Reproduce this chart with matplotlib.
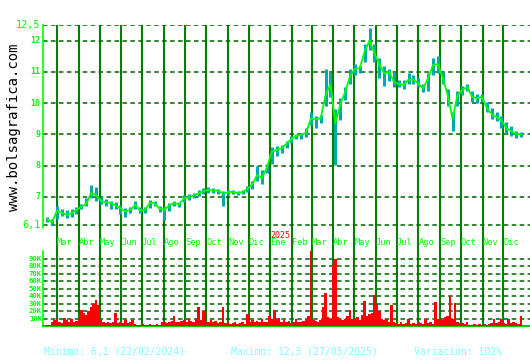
import numpy as np
import pandas as pd
import matplotlib
matplotlib.use("Agg")
import matplotlib.pyplot as plt

# ---------------- data ----------------
price_start = "2024-02-16"   # weekly samples
close = [6.28, 6.18, 6.55, 6.48, 6.42, 6.47, 6.58, 6.68, 6.78, 7.12,
         7.05, 6.87, 6.82, 6.80, 6.72, 6.62, 6.53, 6.58, 6.74, 6.56,
         6.58, 6.80, 6.80, 6.62, 6.58, 6.72, 6.80, 6.76, 6.95, 6.98,
         7.05, 7.10, 7.18, 7.22, 7.20, 7.20, 7.10, 7.14, 7.16, 7.12,
         7.15, 7.25, 7.40, 7.70, 7.60, 7.95, 8.45, 8.50, 8.55, 8.70,
         8.85, 8.95, 8.98, 9.05, 9.50, 9.48, 9.52, 10.25, 10.60, 9.35,
         9.95, 10.35, 10.85, 11.10, 11.12, 11.65, 12.00, 11.60, 11.25, 10.95,
         11.00, 10.68, 10.60, 10.58, 10.75, 10.75, 10.62, 10.47, 10.80, 11.22,
         11.25, 10.80, 10.25, 9.50, 10.25, 10.42, 10.52, 10.20, 10.15, 10.20,
         9.85, 9.65, 9.55, 9.45, 9.20, 9.10, 9.02, 9.00]
high = [6.35, 6.30, 6.70, 6.62, 6.58, 6.60, 6.66, 6.78, 6.95, 7.38,
        7.30, 7.00, 6.92, 6.88, 6.82, 6.75, 6.65, 6.66, 6.85, 6.68,
        6.68, 6.90, 6.88, 6.72, 6.66, 6.80, 6.88, 6.84, 7.05, 7.08,
        7.12, 7.22, 7.28, 7.30, 7.28, 7.26, 7.20, 7.22, 7.22, 7.20,
        7.22, 7.35, 7.52, 8.00, 7.85, 8.05, 8.60, 8.62, 8.65, 8.80,
        8.95, 9.02, 9.05, 9.20, 9.70, 9.60, 9.62, 11.10, 11.00, 9.80,
        10.15, 10.50, 11.10, 11.25, 11.20, 11.90, 12.40, 11.90, 11.45, 11.20,
        11.10, 10.98, 10.75, 10.75, 10.95, 10.90, 10.80, 10.60, 10.95, 11.45,
        11.50, 11.00, 10.45, 9.70, 10.40, 10.55, 10.62, 10.40, 10.30, 10.30,
        10.05, 9.85, 9.70, 9.60, 9.40, 9.25, 9.10, 9.06]
low = [6.20, 6.10, 6.30, 6.38, 6.33, 6.36, 6.45, 6.60, 6.70, 6.95,
       6.88, 6.78, 6.72, 6.62, 6.60, 6.45, 6.35, 6.48, 6.60, 6.48,
       6.48, 6.65, 6.70, 6.52, 6.25, 6.55, 6.70, 6.68, 6.82, 6.90,
       6.95, 7.02, 7.10, 7.12, 7.12, 7.10, 6.70, 7.05, 7.08, 7.05,
       7.08, 7.15, 7.25, 7.50, 7.40, 7.75, 8.05, 8.30, 8.40, 8.55,
       8.72, 8.85, 8.85, 8.92, 9.30, 9.20, 9.35, 9.90, 10.20, 8.02,
       9.45, 10.10, 10.60, 10.90, 10.95, 11.30, 11.70, 11.30, 10.80, 10.55,
       10.70, 10.50, 10.50, 10.45, 10.60, 10.60, 10.50, 10.35, 10.40, 10.90,
       10.95, 10.60, 9.90, 9.12, 9.90, 10.25, 10.40, 10.05, 10.00, 10.02,
       9.70, 9.50, 9.42, 9.20, 9.05, 8.95, 8.88, 8.92]

volume_start = "2024-02-16"  # twice-weekly samples, thousands of shares
volume_k = [2, 2, 5, 8, 10, 6, 4, 11, 8, 5, 9, 6, 7, 9, 21, 18, 15, 20, 26, 30,
            35, 28, 8, 5, 4, 6, 4, 5, 18, 4, 6, 4, 8, 4, 5, 8, 3, 2, 2, 3,
            2, 2, 3, 2, 2, 3, 2, 5, 6, 4, 5, 7, 14, 5, 6, 7, 8, 5, 9, 7,
            6, 10, 26, 8, 20, 6, 5, 8, 5, 7, 4, 6, 26, 4, 5, 3, 4, 6, 3, 4,
            5, 3, 16, 6, 8, 5, 7, 6, 9, 5, 6, 13, 10, 22, 9, 11, 6, 8, 5, 7,
            4, 6, 10, 5, 6, 7, 9, 14, 100, 8, 7, 6, 8, 26, 44, 12, 10, 82, 90, 12,
            9, 8, 9, 13, 22, 10, 9, 12, 8, 15, 34, 14, 16, 18, 41, 29, 20, 9, 8, 10,
            6, 28, 5, 4, 3, 5, 3, 4, 10, 3, 4, 3, 5, 4, 3, 10, 4, 5, 3, 32,
            9, 10, 8, 12, 14, 40, 9, 31, 5, 4, 4, 3, 5, 2, 2, 3, 2, 3, 2, 3,
            2, 3, 4, 10, 4, 5, 9, 4, 3, 10, 4, 5, 4, 3, 13]

month_names = ["Mar", "Abr", "May", "Jun", "Jul", "Ago", "Sep", "Oct", "Nov", "Dic",
               "Ene", "Feb", "Mar", "Abr", "May", "Jun", "Jul", "Ago", "Sep", "Oct",
               "Nov", "Dic"]
year_label = "2025"
price_ticks = [12, 11, 10, 9, 8, 7]
price_min_label, price_max_label = "6,1", "12,5"
price_min, price_max = 6.1, 12.5
volume_ticks = [10, 20, 30, 40, 50, 60, 70, 80, 90]
footer = ["Minimo: 6,1 (22/02/2024)", "Maximo: 12,3 (27/05/2025)", "Variación: 102%"]
site = "www.bolsagrafica.com"

# ---------------- figure ----------------
W, H = 530, 360
fig = plt.figure(figsize=(W / 100, H / 100), dpi=100)
fig.patch.set_facecolor("white")


def fx(px):
    return px / W


def fy(py):
    return 1 - py / H


LEFT, RIGHT = 43, 530
ax = fig.add_axes([fx(LEFT), fy(228), (RIGHT - LEFT) / W, (228 - 25) / H])
axv = fig.add_axes([fx(LEFT), fy(326), (RIGHT - LEFT) / W, (326 - 228) / H])

dates = pd.date_range(price_start, periods=len(close), freq="7D")
vdates = pd.date_range(volume_start, periods=len(volume_k), freq="84h")
month_starts = pd.date_range("2024-03-01", periods=len(month_names), freq="MS")

xlo, xhi = pd.Timestamp("2024-02-10"), pd.Timestamp("2026-01-08")

LIME = "#00ff00"
GRID = "#006400"
VLINE = "#008000"
TEAL = "#00aaaa"
MONO = "DejaVu Sans Mono"
dash = (0, (3.0, 2.2))

for a in (ax, axv):
    a.set_xlim(xlo, xhi)
    a.set_facecolor("white")
    a.set_xticks([])
    a.set_yticks([])
    for s in a.spines.values():
        s.set_visible(False)
    for d in month_starts:
        a.axvline(d, color=VLINE, lw=1.5, zorder=1)

# ---- price panel ----
ax.set_ylim(6.0, 12.5)
for v in price_ticks + [price_min, price_max]:
    ax.axhline(v, color=GRID, lw=1.1, ls=dash, zorder=1)
ax.vlines(dates, low, high, color=TEAL, lw=2.2, zorder=3)
ax.plot(dates, close, color=LIME, lw=1.3, zorder=4)
ax.spines["left"].set_visible(True)
ax.spines["left"].set_color(LIME)
ax.spines["left"].set_linewidth(1.2)

ytr = ax.get_yaxis_transform()
for v in price_ticks:
    ax.text(-0.006, v, str(v), transform=ytr, ha="right", va="center",
            color=LIME, fontsize=6, fontweight="bold", family=MONO)
ax.text(-0.005, price_max, price_max_label, transform=ytr, ha="right", va="center",
        color=LIME, fontsize=7.4, family=MONO)
ax.text(-0.005, price_min, price_min_label, transform=ytr, ha="right", va="center",
        color=LIME, fontsize=7.4, family=MONO)

# ---- volume panel ----
axv.set_ylim(0, 131)
for v in volume_ticks:
    axv.axhline(v, color=GRID, lw=1.1, ls=dash, zorder=1)
axv.bar(vdates, volume_k, width=3.5, color="#ff0000", align="center", zorder=3)
axv.spines["left"].set_visible(True)
axv.spines["left"].set_color(LIME)
axv.spines["left"].set_linewidth(1.2)
axv.spines["left"].set_bounds(0, 100)
axv.spines["bottom"].set_visible(True)
axv.spines["bottom"].set_color("#00cc00")
axv.spines["bottom"].set_linewidth(1.6)

vtr = axv.get_yaxis_transform()
for v in volume_ticks:
    axv.text(-0.002, v, f"{v}K", transform=vtr, ha="right", va="center",
             color=LIME, fontsize=5.2, fontweight="bold", family=MONO)

for d, name in zip(month_starts, month_names):
    axv.text(d, 111, name, ha="left", va="center", color=LIME,
             fontsize=6.2, family=MONO, zorder=5)
axv.text(month_starts[month_names.index("Ene")], 121, year_label, ha="left",
         va="center", color="#ff0000", fontsize=6, family=MONO, zorder=5)

# ---- surrounding text ----
fig.text(fx(14), fy(127), site, rotation=90, ha="center", va="center",
         color="black", fontsize=10, family=MONO)
for xpos, t in zip([44, 231, 414], footer):
    fig.text(fx(xpos), fy(352), t, ha="left", va="center", color="#80ffff",
             fontsize=7, family=MONO)

fig.savefig("out.png", dpi=100, facecolor="white")
